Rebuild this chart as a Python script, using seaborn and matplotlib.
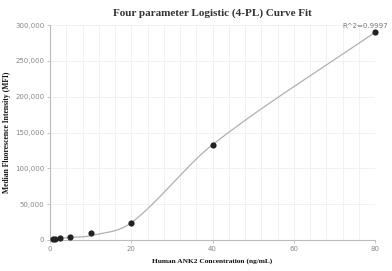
import numpy as np
import pandas as pd
import matplotlib
matplotlib.use("Agg")
import matplotlib.pyplot as plt
import seaborn as sns
from matplotlib.ticker import FuncFormatter, MultipleLocator

# Data
concentration = [0.625, 1.25, 2.5, 5, 10, 20, 40, 80]
mfi = [1400, 2000, 2500, 4700, 9400, 24200, 133000, 290000]
# fitted (4-PL) values at each standard concentration
fitted_mfi = [1400, 1600, 2200, 3700, 6000, 24200, 133000, 290000]
x_ticks = [0, 20, 40, 60, 80]
y_ticks = [0, 50000, 100000, 150000, 200000, 250000, 300000]
r2_label = "R^2=0.9997"
title = "Four parameter Logistic (4-PL) Curve Fit"
x_label = "Human ANK2 Concentration (ng/mL)"
y_label = "Median Fluorescence Intensity (MFI)"


def smooth_curve(xk, yk, n=40):
    """Cardinal (Catmull-Rom style) Hermite spline through the fitted points."""
    xk = np.asarray(xk, float)
    yk = np.asarray(yk, float)
    m = np.zeros_like(yk)
    m[0] = (yk[1] - yk[0]) / (xk[1] - xk[0])
    m[-1] = (yk[-1] - yk[-2]) / (xk[-1] - xk[-2])
    m[1:-1] = (yk[2:] - yk[:-2]) / (xk[2:] - xk[:-2])
    xs, ys = [], []
    for i in range(len(xk) - 1):
        h = xk[i + 1] - xk[i]
        t = np.linspace(0, 1, n, endpoint=(i == len(xk) - 2))
        h00 = 2 * t**3 - 3 * t**2 + 1
        h10 = t**3 - 2 * t**2 + t
        h01 = -2 * t**3 + 3 * t**2
        h11 = t**3 - t**2
        xs.append(xk[i] + t * h)
        ys.append(h00 * yk[i] + h10 * h * m[i] + h01 * yk[i + 1] + h11 * h * m[i + 1])
    return np.concatenate(xs), np.concatenate(ys)


sns.set_theme(style="white")
plt.rcParams['font.family'] = ['DejaVu Sans']

fig = plt.figure(figsize=(3.92, 2.71), dpi=100)
ax = fig.add_axes([0.1276, 0.1144, 0.957 - 0.1276, 0.9077 - 0.1144])

cx, cy = smooth_curve(concentration, fitted_mfi)
curve = pd.DataFrame({"x": cx, "y": cy})
pts = pd.DataFrame({"x": concentration, "y": mfi})

sns.lineplot(data=curve, x="x", y="y", ax=ax, color="#b0b0b0", linewidth=0.9, zorder=2,
             sort=False, estimator=None)
sns.scatterplot(data=pts, x="x", y="y", ax=ax, color="#222222", s=20, edgecolor="#222222",
                linewidth=0, zorder=3, clip_on=False)

ax.set_xlim(0, 80)
ax.set_ylim(0, 300000)
ax.set_xticks(x_ticks)
ax.set_yticks(y_ticks)
ax.xaxis.set_minor_locator(MultipleLocator(4))
ax.yaxis.set_major_formatter(FuncFormatter(lambda v, p: f"{int(v):,}"))
ax.grid(which="minor", axis="x", color="#eceff6", linewidth=0.6)
ax.grid(which="major", axis="x", color="#eceff6", linewidth=0.6)
ax.grid(which="major", axis="y", color="#eceff6", linewidth=0.6)
ax.set_axisbelow(True)

for s in ["top", "right"]:
    ax.spines[s].set_visible(False)
for s in ["left", "bottom"]:
    ax.spines[s].set_color("#bbbbbb")
    ax.spines[s].set_linewidth(0.8)

ax.tick_params(axis="both", which="major", length=2.5, width=0.6, color="#bbbbbb",
               labelsize=5, labelcolor="#888888", pad=1.5, direction="out")
ax.tick_params(axis="both", which="minor", length=0)
ax.tick_params(bottom=True, left=True)

ax.set_title(title, fontsize=8, fontweight="bold", family="Liberation Serif", color="#333333", pad=7)
ax.set_xlabel(x_label, fontsize=5.3, fontweight="bold", family="Liberation Serif", color="#111111", labelpad=5)
ax.set_ylabel(y_label, fontsize=5.5, fontweight="bold", family="Liberation Serif", color="#111111", labelpad=3)

ax.annotate(r2_label, xy=(concentration[-1], mfi[-1]), xytext=(9.5, 2.5), textcoords="offset points",
            ha="right", va="bottom", fontsize=5, color="#777777", annotation_clip=False)

fig.savefig("out.png", dpi=100)
